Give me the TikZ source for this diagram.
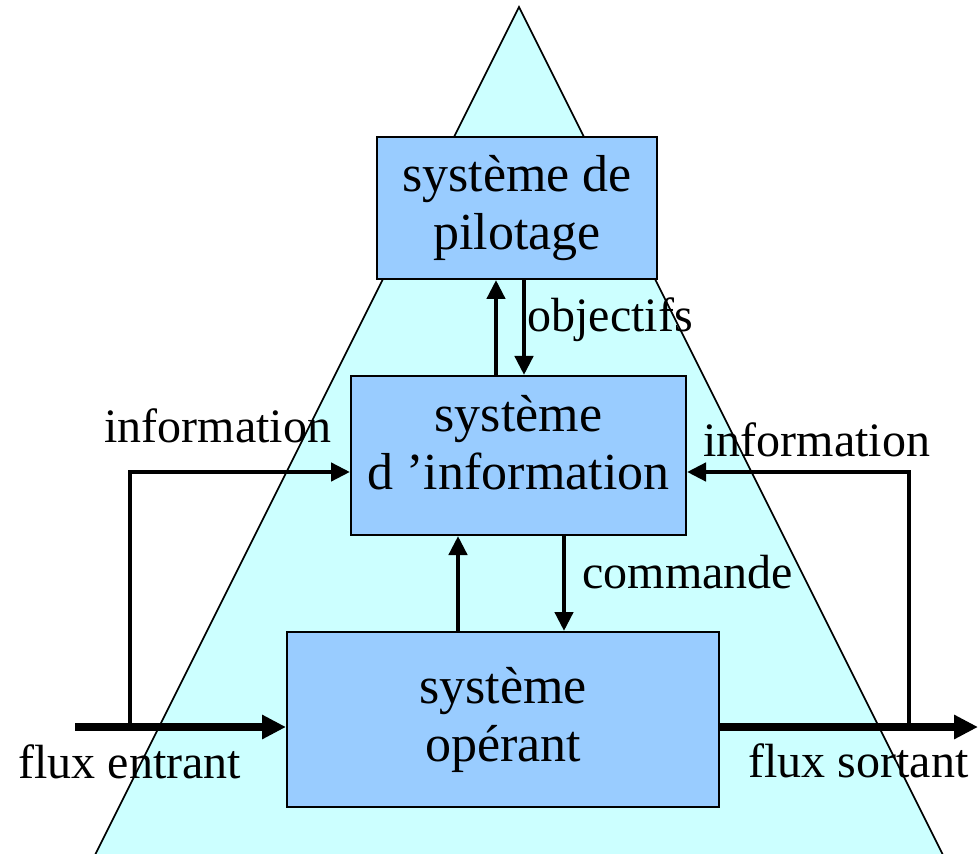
\documentclass[tikz,border=0pt]{standalone}
\usepackage{fontspec}
\setmainfont{Liberation Serif}
\usetikzlibrary{arrows.meta}
\definecolor{pyramide}{HTML}{CCFFFF}
\definecolor{boite}{HTML}{99CCFF}

\begin{document}
\begin{tikzpicture}[x=0.5pt,y=-0.5pt,>=Latex,
  sysbox/.style={draw=black,line width=1pt,fill=boite,align=center,font=\fontsize{26}{29}\selectfont,inner sep=0pt},
  lbl/.style={font=\fontsize{24}{28}\selectfont,inner sep=0pt,anchor=base west},
  fleche/.style={line width=2.2pt,-{Triangle[length=9.5pt,width=9pt]}},
  flux/.style={line width=4pt,-{Triangle[length=12pt,width=11.5pt]}}]
\useasboundingbox (0,0) rectangle (978,854);
\begin{scope}
\clip (0,0) rectangle (978,854);
\draw[fill=pyramide,line width=0.8pt] (519,7) -- (962,893) -- (76,893) -- cycle;
\end{scope}
\node[sysbox,minimum width=140pt,minimum height=71pt] (pilot) at (517,208) {système de\\pilotage};
\node[sysbox,minimum width=167.5pt,minimum height=79.5pt,text depth=13pt] (info) at (518.5,455.5) {système\\d ’information};
\node[sysbox,minimum width=216pt,minimum height=87.5pt] (oper) at (503,719.5) {système\\opérant};
\coordinate (xa) at (496,0);
\coordinate (xb) at (524,0);
\coordinate (xc) at (458,0);
\coordinate (xd) at (564,0);
\coordinate (niv) at (0,472);
\coordinate (entree) at (75,727);
\coordinate (depart) at (130,727);
\coordinate (retour) at (909,727);
\coordinate (sortie) at (978,727);
\draw[fleche] (info.north -| xa) -- (pilot.south -| xa);
\draw[fleche] (pilot.south -| xb) -- (info.north -| xb);
\draw[fleche] (oper.north -| xc) -- (info.south -| xc);
\draw[fleche] (info.south -| xd) -- (oper.north -| xd);
\draw[flux] (entree) -- (oper.west |- entree);
\draw[flux] (oper.east |- sortie) -- (sortie);
\draw[fleche] (depart) |- (info.west |- niv);
\draw[fleche] (retour) |- (info.east |- niv);
\node[lbl] (objectifs) at (527,332) {objectifs};
\node[lbl] (infoG) at (104,443) {information};
\node[lbl] (infoD) at (703,457) {information};
\node[lbl] (commande) at (582,588) {commande};
\node[lbl] (fluxE) at (18,778) {flux entrant};
\node[lbl] (fluxS) at (748,777) {flux sortant};
\end{tikzpicture}
\end{document}
